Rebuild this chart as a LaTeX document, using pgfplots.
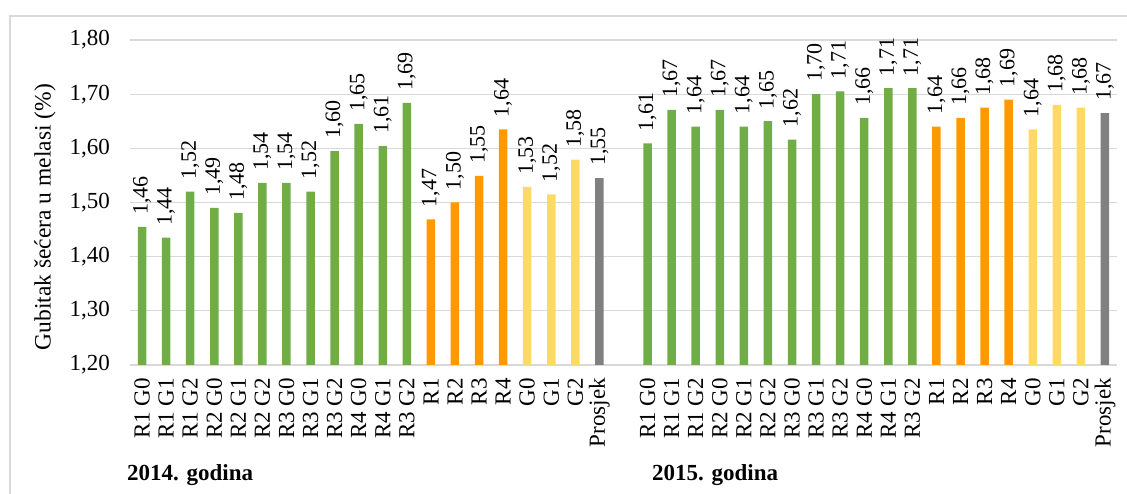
\documentclass[border=0pt]{standalone}
\usepackage{fontspec}
\setmainfont{Liberation Serif}
\usepackage{pgfplots}
\pgfplotsset{compat=1.18}
\usepackage{pgfplotstable}

\definecolor{cgreen}{HTML}{70AD47}
\definecolor{corange}{HTML}{FF9900}
\definecolor{cyellow}{HTML}{FFD966}
\definecolor{cgray}{HTML}{808080}
\definecolor{cgrid}{HTML}{D9D9D9}

\pgfplotstableread{
x y lab
0 1.455 1.46
1 1.435 1.44
2 1.520 1.52
3 1.490 1.49
4 1.481 1.48
5 1.536 1.54
6 1.536 1.54
7 1.520 1.52
8 1.595 1.60
9 1.645 1.65
10 1.604 1.61
11 1.684 1.69
21 1.609 1.61
22 1.671 1.67
23 1.640 1.64
24 1.671 1.67
25 1.640 1.64
26 1.650 1.65
27 1.616 1.62
28 1.700 1.70
29 1.705 1.71
30 1.656 1.66
31 1.711 1.71
32 1.711 1.71
}\tgreen

\pgfplotstableread{
x y lab
12 1.469 1.47
13 1.500 1.50
14 1.549 1.55
15 1.635 1.64
33 1.640 1.64
34 1.656 1.66
35 1.675 1.68
36 1.690 1.69
}\torange

\pgfplotstableread{
x y lab
16 1.529 1.53
17 1.515 1.52
18 1.579 1.58
37 1.635 1.64
38 1.680 1.68
39 1.675 1.68
}\tyellow

\pgfplotstableread{
x y lab
19 1.545 1.55
40 1.665 1.67
}\tgray

\begin{document}
\begin{tikzpicture}[x=1pt,y=1pt]
\useasboundingbox (0,0) rectangle (1127,494);
\draw[cgrid, line width=1.5pt] (10,-20) -- (10,478) -- (1150,478);
\begin{axis}[
  at={(130pt,129pt)}, anchor=south west,
  scale only axis, width=987pt, height=325pt,
  xmin=-0.5, xmax=40.5, ymin=1.2, ymax=1.8,
  ytick={1.2,1.3,1.4,1.5,1.6,1.7,1.8},
  ymajorgrids, grid style={cgrid, line width=1.2pt},
  axis line style={draw=none},
  major tick length=0pt,
  clip=false,
  xtick={0,1,2,3,4,5,6,7,8,9,10,11,12,13,14,15,16,17,18,19,21,22,23,24,25,26,27,28,29,30,31,32,33,34,35,36,37,38,39,40},
  xticklabels={R1 G0,R1 G1,R1 G2,R2 G0,R2 G1,R2 G2,R3 G0,R3 G1,R3 G2,R4 G0,R4 G1,R3 G2,R1,R2,R3,R4,G0,G1,G2,Prosjek,
               R1 G0,R1 G1,R1 G2,R2 G0,R2 G1,R2 G2,R3 G0,R3 G1,R3 G2,R4 G0,R4 G1,R3 G2,R1,R2,R3,R4,G0,G1,G2,Prosjek},
  x tick label style={rotate=90, anchor=east, inner sep=0pt, inner xsep=13pt, font=\fontsize{23}{27}\selectfont},
  y tick label style={anchor=east, inner sep=0pt, xshift=-20pt, font=\fontsize{23}{27}\selectfont},
  ylabel={Gubitak šećera u melasi (\%)},
  ylabel style={at={(axis description cs:-0.0861,0.455)}, anchor=center, font=\fontsize{23.5}{28}\selectfont},
  every axis plot/.append style={ybar, bar width=8.5pt, bar shift=0pt, draw=none},
  nodes near coords, point meta=explicit,
  every node near coord/.append style={rotate=90, anchor=west, inner sep=0pt, inner xsep=12pt, font=\fontsize{22}{26}\selectfont, text=black},
  /pgf/number format/fixed,
  /pgf/number format/fixed zerofill,
  /pgf/number format/precision=2,
  /pgf/number format/use comma,
  /pgf/number format/assume math mode=true,
]
\addplot[fill=cgreen] table[x=x, y=y, meta=lab] {\tgreen};
\addplot[fill=corange] table[x=x, y=y, meta=lab] {\torange};
\addplot[fill=cyellow] table[x=x, y=y, meta=lab] {\tyellow};
\addplot[fill=cgray] table[x=x, y=y, meta=lab] {\tgray};
\end{axis}
\node[anchor=base west, inner sep=0pt, font=\bfseries\fontsize{23}{27}\selectfont] at (127,13) {2014. godina};
\node[anchor=base west, inner sep=0pt, font=\bfseries\fontsize{23}{27}\selectfont] at (652,13) {2015. godina};
\end{tikzpicture}
\end{document}
